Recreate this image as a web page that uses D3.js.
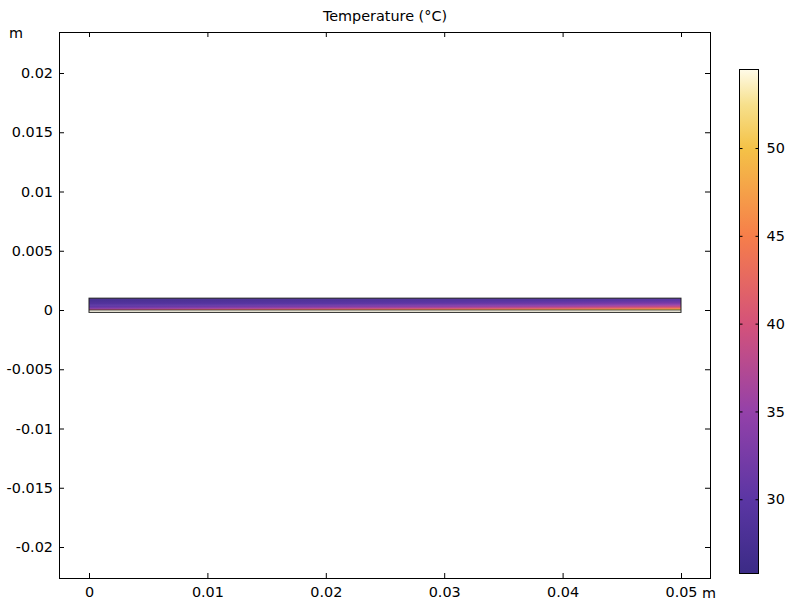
<!DOCTYPE html>
<html><head><meta charset="utf-8">
<script src="https://cdn.jsdelivr.net/npm/d3@7"></script>
<style>
body{margin:0;background:#fff;}
text{font-family:"DejaVu Sans",sans-serif;font-size:14.4px;fill:#000;}
</style></head>
<body><svg id="c" width="788" height="601"></svg>
<script>
// ---- data ----
const xTicks = [0, 0.01, 0.02, 0.03, 0.04, 0.05];
const xTickLabels = ["0", "0.01", "0.02", "0.03", "0.04", "0.05"];
const yTicks = [0.02, 0.015, 0.01, 0.005, 0, -0.005, -0.01, -0.015, -0.02];
const yTickLabels = ["0.02", "0.015", "0.01", "0.005", "0", "-0.005", "-0.01", "-0.015", "-0.02"];
const cbTicks = [30, 35, 40, 45, 50];
const cbRange = [25.8, 54.5];
// colormap stops (temperature -> colour)
const cmapValues = [25.8, 30, 35, 40, 45, 50, 52.5, 54.5];
const cmapColors = ["#3b2b86", "#5b36a4", "#9441a9", "#d4527a", "#f67e4a", "#f4c247", "#f7e08c", "#fffbe8"];
// field sampling: columns (x, m) and row bands (y top, y bottom, m)
const fieldX = [0, 0.01, 0.02, 0.03, 0.04, 0.05];
const rowTop = [0.001, 0.0009, 0.0008, 0.0007, 0.0006, 0.0005, 0.0004, 0.0003, 0.0002, 0.0001];
const rowBottom = [0.0009, 0.0008, 0.0007, 0.0006, 0.0005, 0.0004, 0.0003, 0.0002, 0.0001, 0];
// temperature (°C) per row (top->bottom), per column
const fieldT = [
  [27.0, 27.5, 28.0, 28.0, 28.5, 29.0],
  [27.5, 28.0, 28.5, 29.0, 29.0, 30.0],
  [28.0, 28.5, 29.0, 29.5, 30.0, 31.0],
  [28.5, 29.0, 29.5, 30.0, 31.0, 32.0],
  [29.0, 29.5, 30.0, 31.0, 32.0, 33.5],
  [29.5, 30.0, 31.0, 32.0, 33.0, 35.0],
  [30.0, 31.0, 32.0, 33.5, 35.0, 37.0],
  [31.0, 32.5, 34.0, 35.5, 37.5, 40.0],
  [33.0, 35.0, 37.0, 39.0, 41.0, 44.0],
  [38.0, 42.0, 44.0, 46.0, 48.0, 50.0]
];
// heater layer
const heaterY = [0, -0.0002];
const heaterT = [54.5, 54.5, 54.5, 54.5, 54.5, 54.5];

// ---- layout ----
const FS = 14.4;
const frame = {l: 59, r: 710, t: 32, b: 578};
const svg = d3.select("#c");
const x = d3.scaleLinear().domain([0, 0.05]).range([89, 681]);
const y = d3.scaleLinear().domain([0, 0.02]).range([310, 73]);
const color = d3.scaleLinear().domain(cmapValues).range(cmapColors).interpolate(d3.interpolateRgb).clamp(true);

const defs = svg.append("defs");

// field rows
const fieldG = svg.append("g");
function drawBand(i, yTop, yBot, temps) {
  const id = "g" + i;
  const gr = defs.append("linearGradient").attr("id", id)
    .attr("gradientUnits", "userSpaceOnUse")
    .attr("x1", x(fieldX[0])).attr("x2", x(fieldX[fieldX.length - 1]))
    .attr("y1", 0).attr("y2", 0);
  fieldX.forEach((fx, j) => {
    gr.append("stop").attr("offset", (fx - fieldX[0]) / (fieldX[fieldX.length - 1] - fieldX[0]))
      .attr("stop-color", color(temps[j]));
  });
  fieldG.append("rect")
    .attr("x", x(fieldX[0])).attr("width", x(fieldX[fieldX.length - 1]) - x(fieldX[0]))
    .attr("y", y(yTop)).attr("height", y(yBot) - y(yTop) + 0.6)
    .attr("fill", "url(#" + id + ")");
}
fieldT.forEach((temps, i) => drawBand(i, rowTop[i], rowBottom[i], temps));
drawBand("h", heaterY[0], heaterY[1], heaterT);

// outlines
fieldG.append("rect")
  .attr("x", x(0)).attr("y", y(rowTop[0]))
  .attr("width", x(0.05) - x(0)).attr("height", y(heaterY[1]) - y(rowTop[0]))
  .attr("fill", "none").attr("stroke", "#222").attr("stroke-width", 1);
fieldG.append("line")
  .attr("x1", x(0)).attr("x2", x(0.05)).attr("y1", y(0)).attr("y2", y(0))
  .attr("stroke", "#222").attr("stroke-width", 0.8);

// axes
const ax = svg.append("g");
ax.append("g").attr("transform", `translate(0,${frame.b})`)
  .call(d3.axisBottom(x).tickValues(xTicks).tickSize(-5).tickPadding(9)
    .tickFormat((d, i) => xTickLabels[i]));
ax.append("g").attr("transform", `translate(0,${frame.t})`)
  .call(d3.axisTop(x).tickValues(xTicks).tickSize(-5).tickFormat(""));
ax.append("g").attr("transform", `translate(${frame.l},0)`)
  .call(d3.axisLeft(y).tickValues(yTicks).tickSize(-5).tickPadding(6)
    .tickFormat((d, i) => yTickLabels[i]));
ax.append("g").attr("transform", `translate(${frame.r},0)`)
  .call(d3.axisRight(y).tickValues(yTicks).tickSize(-5).tickFormat(""));
ax.selectAll(".domain").remove();
ax.selectAll("line").attr("stroke", "#000");
ax.selectAll("text").attr("font-family", "DejaVu Sans, sans-serif").attr("font-size", FS).attr("fill", "#000");

svg.append("rect").attr("x", frame.l + 0.5).attr("y", frame.t + 0.5)
  .attr("width", frame.r - frame.l).attr("height", frame.b - frame.t)
  .attr("fill", "none").attr("stroke", "#000").attr("stroke-width", 1);

// unit labels & title
svg.append("text").attr("x", 9).attr("y", 38).text("m");
svg.append("text").attr("x", 702).attr("y", 598).text("m");
svg.append("text").attr("x", 385).attr("y", 21).attr("text-anchor", "middle").text("Temperature (°C)");

// colorbar
const cb = {x: 739, w: 19, t: 69, b: 573};
const cy = d3.scaleLinear().domain(cbRange).range([cb.b, cb.t]);
const cg = defs.append("linearGradient").attr("id", "cbg")
  .attr("x1", 0).attr("x2", 0).attr("y1", 1).attr("y2", 0);
cmapValues.forEach(v => {
  cg.append("stop").attr("offset", (v - cbRange[0]) / (cbRange[1] - cbRange[0])).attr("stop-color", color(v));
});
svg.append("rect").attr("x", cb.x + 0.5).attr("y", cb.t + 0.5).attr("width", cb.w).attr("height", cb.b - cb.t)
  .attr("fill", "url(#cbg)").attr("stroke", "#000").attr("stroke-width", 1);
const cbAxis = svg.append("g").attr("transform", `translate(${cb.x + cb.w + 0.5},0)`)
  .call(d3.axisRight(cy).tickValues(cbTicks).tickSize(-3).tickPadding(8));
cbAxis.select(".domain").remove();
cbAxis.selectAll("line").attr("stroke", "#000");
cbAxis.selectAll("text").attr("font-family", "DejaVu Sans, sans-serif").attr("font-size", FS).attr("fill", "#000");
svg.append("g").attr("transform", `translate(${cb.x + 0.5},0)`)
  .call(d3.axisLeft(cy).tickValues(cbTicks).tickSize(-3).tickFormat(""))
  .call(g => { g.select(".domain").remove(); g.selectAll("line").attr("stroke", "#000"); });
</script></body></html>
